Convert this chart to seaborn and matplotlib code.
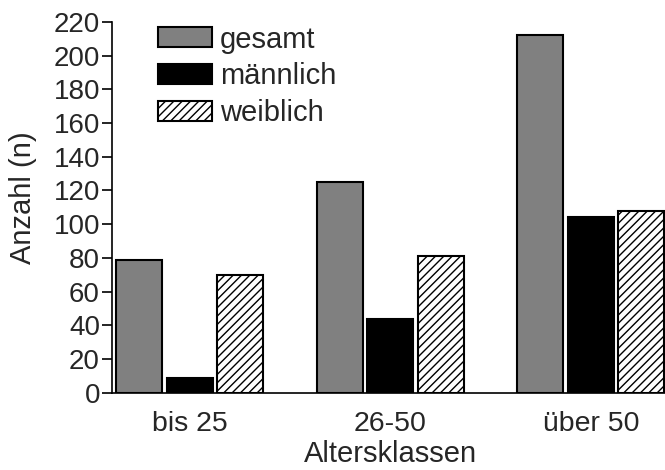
import matplotlib
matplotlib.use("Agg")
import matplotlib.pyplot as plt
import seaborn as sns
import pandas as pd

categories = ["bis 25", "26-50", "über 50"]
series_names = ["gesamt", "männlich", "weiblich"]
gesamt = [79, 125, 212]
maennlich = [9, 44, 104]
weiblich = [70, 81, 108]
y_ticks = list(range(0, 221, 20))

rows = []
for name, vals in zip(series_names, [gesamt, maennlich, weiblich]):
    for c, v in zip(categories, vals):
        rows.append({"Altersklassen": c, "Gruppe": name, "Anzahl": v})
df = pd.DataFrame(rows)

sns.set_theme(style="ticks")
plt.rcParams["font.family"] = ["Liberation Sans", "DejaVu Sans"]
plt.rcParams["hatch.linewidth"] = 1.0
plt.rcParams["hatch.color"] = "black"

fig = plt.figure(figsize=(6.65, 4.70), dpi=100)
ax = fig.add_axes([0.169, 0.1645, 0.831, 0.789])

palette = {"gesamt": "#808080", "männlich": "#000000", "weiblich": "#ffffff"}
sns.barplot(data=df, x="Altersklassen", y="Anzahl", hue="Gruppe",
            hue_order=series_names, order=categories, palette=palette,
            width=0.754, gap=0.09, edgecolor="black", linewidth=1.5,
            saturation=1, ax=ax, legend=False, errorbar=None)

containers = ax.containers
for bar in containers[2]:
    bar.set_hatch("////")
    bar.set_edgecolor("black")

ax.set_ylim(0, 220)
ax.set_yticks(y_ticks)
ax.set_xlim(-0.385, 2.37)
ax.tick_params(axis="y", length=7, width=1.2, labelsize=20, pad=2, color="black")
ax.tick_params(axis="x", length=0, labelsize=20.5, pad=13)
for s in ["top", "right"]:
    ax.spines[s].set_visible(False)
for s in ["left", "bottom"]:
    ax.spines[s].set_linewidth(1.2)
    ax.spines[s].set_color("black")
ax.set_ylabel("Anzahl (n)", fontsize=21, va="center")
ax.yaxis.set_label_coords(-0.1616, 0.525)
ax.set_xlabel("Altersklassen", fontsize=21, va="top")
ax.xaxis.set_label_coords(0.503, -0.127)

handles = [containers[i][0] for i in range(3)]
ax.legend(handles, series_names, loc="upper left", bbox_to_anchor=(0.083, 0.99),
          frameon=False, fontsize=21, handlelength=1.85, handleheight=0.685,
          handletextpad=0.27, labelspacing=0.3, borderpad=0, borderaxespad=0)

fig.savefig("out.png", dpi=100)
